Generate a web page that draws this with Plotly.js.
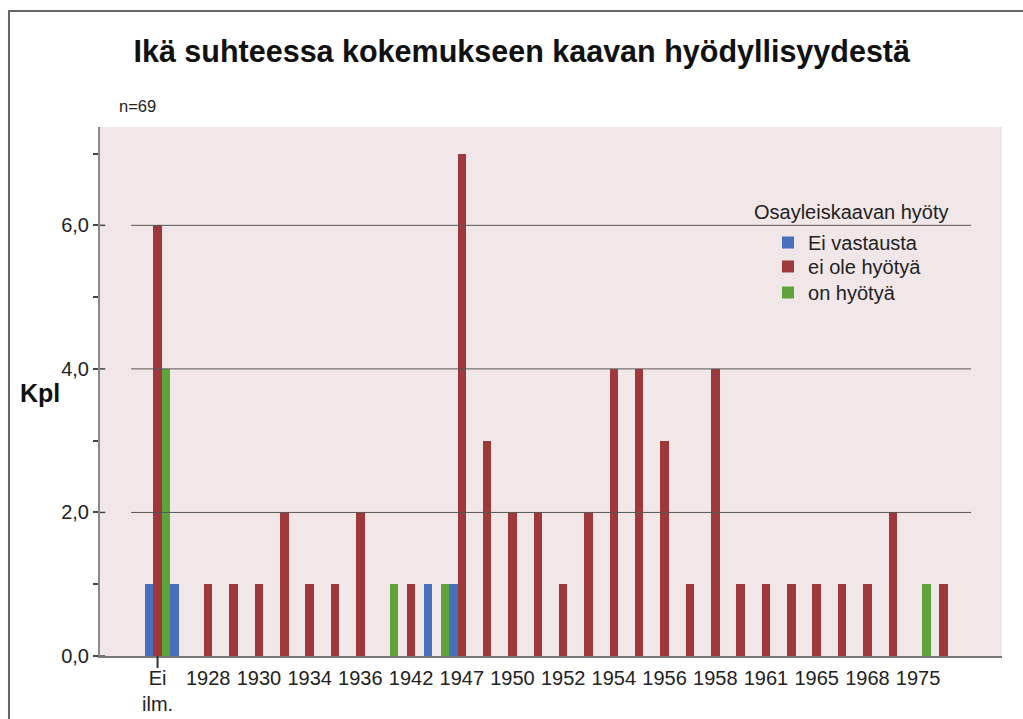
<!DOCTYPE html>
<html>
<head>
<meta charset="utf-8">
<script src="https://cdn.plot.ly/plotly-3.0.1.min.js"></script>
<style>html,body{margin:0;padding:0;background:#fff;}#chart{width:1023px;height:719px;}</style>
</head>
<body>
<div id="chart"></div>
<script>
// Categories (birth year); odd positions are unlabeled in the original
var categories = ["Ei ilm.","1926","1928","1929","1930","1932","1934","1935","1936","1940",
                  "1942","1945","1947","1948","1950","1951","1952","1953","1954","1955",
                  "1956","1957","1958","1960","1961","1963","1965","1966","1968","1970",
                  "1975","1978"];
var seriesNames = ["Ei vastausta","ei ole hyötyä","on hyötyä"];
var eiVastausta = [1,1,0,0,0,0,0,0,0,0, 0,1,1,0,0,0,0,0,0,0, 0,0,0,0,0,0,0,0,0,0, 0,0];
var eiOleHyotya = [6,0,1,1,1,2,1,1,2,0, 1,0,7,3,2,2,1,2,4,4, 3,1,4,1,1,1,1,1,1,2, 0,1];
var onHyotya    = [4,0,0,0,0,0,0,0,0,1, 0,1,0,0,0,0,0,0,0,0, 0,0,0,0,0,0,0,0,0,0, 1,0];
var tickCats = ["Ei ilm.","1928","1930","1934","1936","1942","1947","1950","1952","1954","1956","1958","1961","1965","1968","1975"];
var tickLabels = ["Ei<br>ilm.","1928","1930","1934","1936","1942","1947","1950","1952","1954","1956","1958","1961","1965","1968","1975"];
var gridValues = [2,4,6];
var majorTicks = [0,2,4,6];

var colors = ["#4670bd","#9f383b","#5ea43b"];
var FONT = "Liberation Sans, Arial, sans-serif";
var legendIds = ["legend","legend2","legend3"];
var legendTops = [0.8185, 0.7732, 0.724];

var seriesData = [eiVastausta, eiOleHyotya, onHyotya];
var traces = seriesData.map(function(vals, k){
  return {type:"bar", name:seriesNames[k], x:categories, y:vals, legend:legendIds[k],
          marker:{color:colors[k], line:{width:0}}, hoverinfo:"x+y+name"};
});

var shapes = [];
// frame around the figure
shapes.push({type:"path", xref:"paper", yref:"paper",
  path:"M -0.1009 -0.2 L -0.1009 1.2193 L 1.05 1.2193",
  line:{color:"#666", width:2}});
gridValues.forEach(function(v){
  shapes.push({type:"line", xref:"paper", yref:"y", x0:0.0344, x1:0.9656, y0:v, y1:v,
    line:{color:"#555", width:1}, layer:"above"});
});
majorTicks.forEach(function(v){
  shapes.push({type:"line", xref:"paper", yref:"y", x0:0, x1:0.0058, y0:v, y1:v,
    line:{color:"#444", width:1.5}});
});
// x tick marks
tickCats.forEach(function(c){
  shapes.push({type:"line", xref:"x", yref:"paper", x0:c, x1:c, y0:0, y1:-12/529,
    line:{color:"#333", width:2}});
});

var layout = {
  width:1023, height:719,
  margin:{l:100, r:21, t:127, b:63},
  paper_bgcolor:"#ffffff",
  plot_bgcolor:"#f1e7e8",
  font:{family:FONT, color:"#222"},
  separators:", ",
  barmode:"group", bargap:0, bargroupgap:0,
  title:{text:"Ikä suhteessa kokemukseen kaavan hyödyllisyydestä",
         font:{family:FONT, size:30.5, color:"#111", weight:"bold"},
         x:0.51, xanchor:"center", y:0.928, yanchor:"middle"},
  xaxis:{type:"category", range:[-2.27, 33.31], categoryorder:"array", categoryarray:categories,
         tickmode:"array", tickvals:tickCats, ticktext:tickLabels,
         ticks:"outside", ticklen:3, tickwidth:0.01, tickcolor:"rgba(0,0,0,0)",
         tickfont:{size:20, color:"#222"}, showline:true, linecolor:"#777", linewidth:2,
         showgrid:false, zeroline:false, fixedrange:true},
  yaxis:{range:[0,7.37], tickmode:"array", tickvals:majorTicks, tickformat:".1f",
         ticks:"outside", ticklen:5, tickwidth:1.5, tickcolor:"#444",
         minor:{tickvals:[1,3,5,7], ticks:"outside", ticklen:5, tickcolor:"#444", tickwidth:1.5, showgrid:false},
         tickfont:{size:20, color:"#222"}, showline:true, linecolor:"#888", linewidth:2,
         showgrid:false, zeroline:false, fixedrange:true},
  showlegend:true,
  shapes:shapes,
  annotations:[
    {text:"n=69", xref:"paper", yref:"paper", x:0.0188, y:1.0397, xanchor:"left", yanchor:"middle",
     showarrow:false, font:{size:16.5, color:"#222"}},
    {text:"<b>Kpl</b>", xref:"paper", yref:"paper", x:-0.0665, y:0.497, xanchor:"center", yanchor:"middle",
     showarrow:false, font:{size:25, color:"#111"}},
    {text:"Osayleiskaavan hyöty", xref:"paper", yref:"paper", x:0.8326, y:0.839, xanchor:"center", yanchor:"middle",
     showarrow:false, font:{size:20, color:"#222"}}
  ]
};
legendIds.forEach(function(id, k){
  layout[id] = {x:0.7406, y:legendTops[k], xanchor:"left", yanchor:"top", bgcolor:"rgba(0,0,0,0)",
                font:{size:20, color:"#222"}};
});

Plotly.newPlot("chart", traces, layout, {displayModeBar:false});
</script>
</body>
</html>
